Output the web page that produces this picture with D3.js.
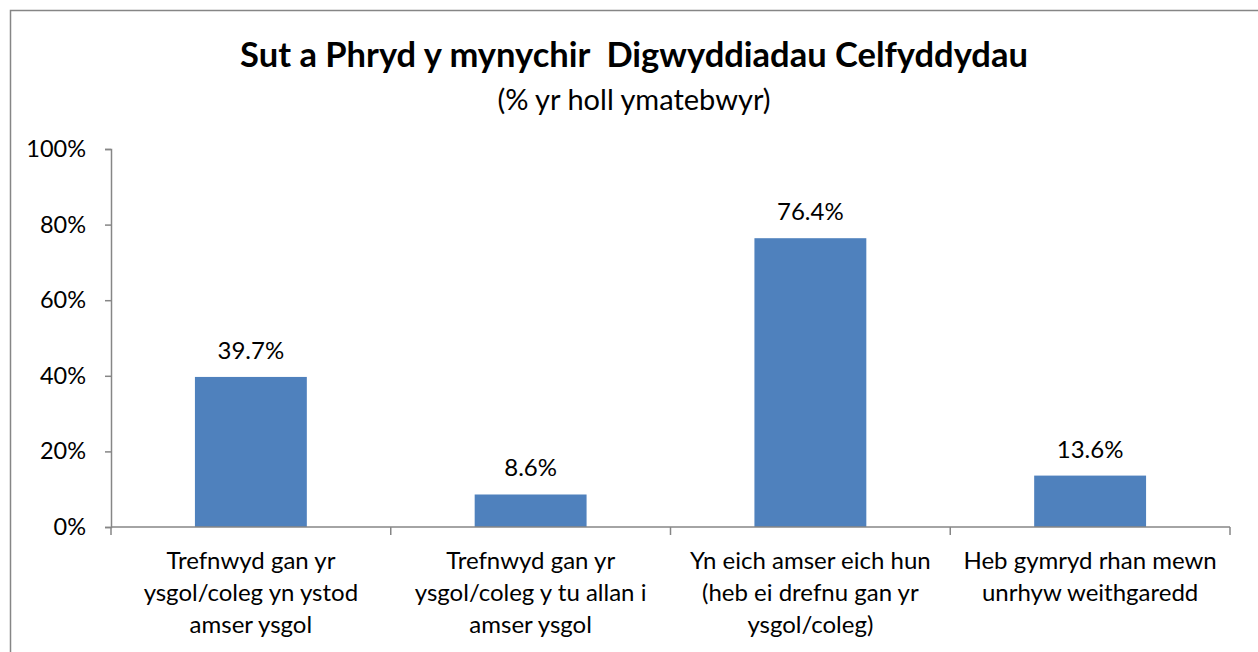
<!DOCTYPE html>
<html>
<head>
<meta charset="utf-8">
<script src="https://cdnjs.cloudflare.com/ajax/libs/d3/7.8.5/d3.min.js"></script>
<style>
  body { margin: 0; background: #fff; }
  svg text { font-family: Lato, "Open Sans", sans-serif; fill: #000; }
</style>
</head>
<body>
<script>
// chart data
var categories = [
  ["Trefnwyd gan yr", "ysgol/coleg yn ystod", "amser ysgol"],
  ["Trefnwyd gan yr", "ysgol/coleg y tu allan i", "amser ysgol"],
  ["Yn eich amser eich hun", "(heb ei drefnu gan yr", "ysgol/coleg)"],
  ["Heb gymryd rhan mewn", "unrhyw weithgaredd"]
];
var values = [39.7, 8.6, 76.4, 13.6];
var yTicks = [0, 20, 40, 60, 80, 100];
var titleText = "Sut a Phryd y mynychir\u00a0 Digwyddiadau Celfyddydau";
var subtitleText = "(% yr holl ymatebwyr)";

var W = 1258, H = 652;
var plot = {left: 111, right: 1230, top: 149, bottom: 527};

var svg = d3.select("body").append("svg")
    .attr("width", W)
    .attr("height", H);

// outer chart border (runs off the right and bottom edges)
svg.append("rect")
    .attr("x", 10.5).attr("y", 10.5)
    .attr("width", W + 20).attr("height", H + 20)
    .attr("fill", "none")
    .attr("stroke", "#868686")
    .attr("stroke-width", 1.5);

// titles
svg.append("text")
    .attr("x", 634).attr("y", 67)
    .attr("text-anchor", "middle")
    .attr("font-size", "34.5px")
    .attr("font-weight", "bold")
    .text(titleText);

svg.append("text")
    .attr("x", 634).attr("y", 110)
    .attr("text-anchor", "middle")
    .attr("font-size", "29px")
    .text(subtitleText);

// scales
var x = d3.scaleBand()
    .domain(d3.range(categories.length))
    .range([plot.left, plot.right])
    .padding(0);

var y = d3.scaleLinear()
    .domain([0, 100])
    .range([plot.bottom, plot.top]);

// y axis
var yAxis = d3.axisLeft(y)
    .tickValues(yTicks)
    .tickSize(6)
    .tickPadding(19)
    .tickFormat(function(d) { return d + "%"; });

var gy = svg.append("g")
    .attr("transform", "translate(" + plot.left + ",0)")
    .call(yAxis);
gy.select(".domain").attr("stroke", "#868686").attr("stroke-width", 1.5);
gy.selectAll(".tick line").attr("stroke", "#868686").attr("stroke-width", 1.5);
gy.selectAll(".tick text")
    .attr("font-size", "23.5px")
    .attr("fill", "#000")
    .style("font-family", "Lato, sans-serif");

// bars
var barW = x.bandwidth() * 0.4;
svg.selectAll(".bar")
    .data(values)
  .enter().append("rect")
    .attr("class", "bar")
    .attr("x", function(d, i) { return x(i) + (x.bandwidth() - barW) / 2; })
    .attr("y", function(d) { return y(d); })
    .attr("width", barW)
    .attr("height", function(d) { return y(0) - y(d); })
    .attr("fill", "#4F81BD");

// value labels
svg.selectAll(".val")
    .data(values)
  .enter().append("text")
    .attr("class", "val")
    .attr("x", function(d, i) { return x(i) + x.bandwidth() / 2; })
    .attr("y", function(d) { return y(d) - 18; })
    .attr("text-anchor", "middle")
    .attr("font-size", "24px")
    .text(function(d) { return d.toFixed(1) + "%"; });

// x axis line with category boundary ticks
var gx = svg.append("g");
gx.append("line")
    .attr("x1", plot.left).attr("x2", plot.right)
    .attr("y1", plot.bottom).attr("y2", plot.bottom)
    .attr("stroke", "#868686").attr("stroke-width", 1.5);
gx.selectAll(".xtick")
    .data(d3.range(categories.length + 1))
  .enter().append("line")
    .attr("x1", function(i) { return i < categories.length ? x(i) : plot.right; })
    .attr("x2", function(i) { return i < categories.length ? x(i) : plot.right; })
    .attr("y1", plot.bottom).attr("y2", plot.bottom + 8)
    .attr("stroke", "#868686").attr("stroke-width", 1.5);

// category labels
var lab = svg.selectAll(".cat")
    .data(categories)
  .enter().append("text")
    .attr("class", "cat")
    .attr("text-anchor", "middle")
    .attr("font-size", "24px");
lab.selectAll("tspan")
    .data(function(d, i) { return d.map(function(t) { return {t: t, i: i}; }); })
  .enter().append("tspan")
    .attr("x", function(d) { return x(d.i) + x.bandwidth() / 2; })
    .attr("y", function(d, j) { return 569 + j * 32; })
    .text(function(d) { return d.t; });
</script>
</body>
</html>
